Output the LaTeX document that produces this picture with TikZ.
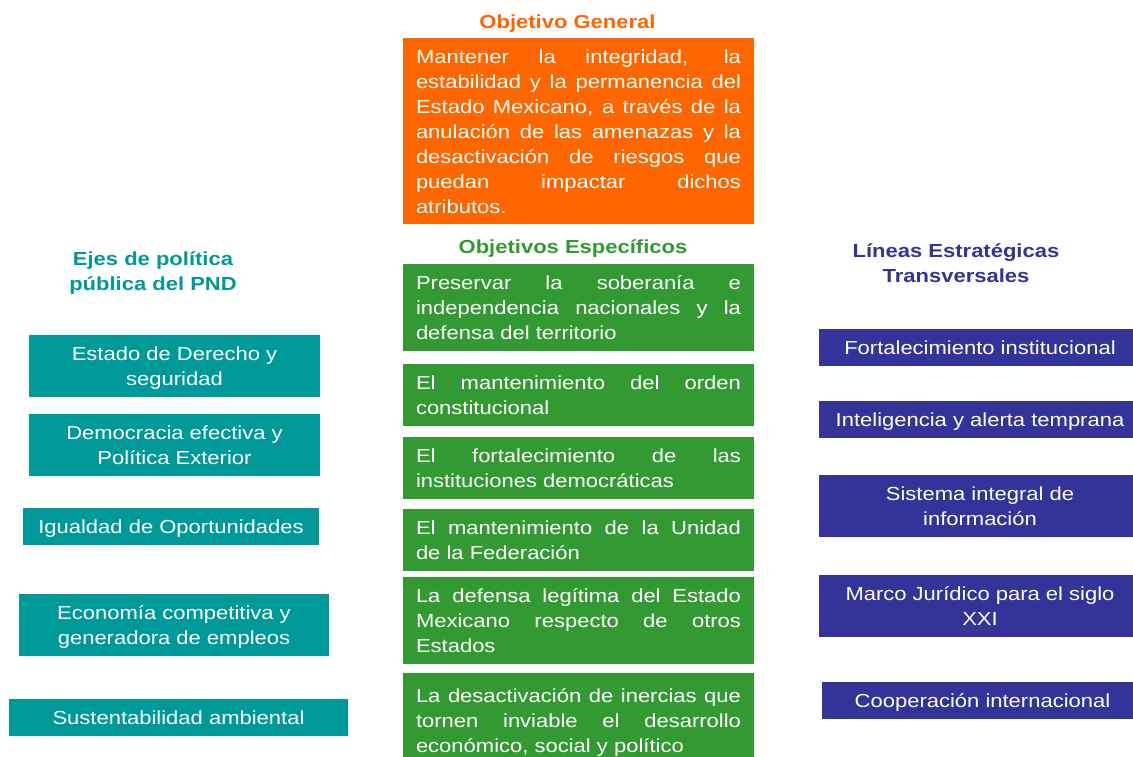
\documentclass[tikz,border=0pt]{standalone}
\usepackage{fontspec}
\setmainfont{Liberation Sans}
\usepackage{graphicx}
\definecolor{cOrange}{HTML}{FF6600}
\definecolor{cGreen}{HTML}{339933}
\definecolor{cTeal}{HTML}{009999}
\definecolor{cBlue}{HTML}{333399}
\newcommand\sqbox[2]{\scalebox{1}[0.86]{\parbox{#1}{\parindent=0pt\fontsize{22}{29.07}\selectfont #2}}}
\newcommand\bxtext[2]{\sqbox{#1}{\vspace*{5pt}#2}}
\newcommand\jl[1]{\makebox[325pt][s]{\strut#1}\\}
\newcommand\lastl[1]{\makebox[325pt][l]{\strut#1}}
\newcommand\ctext[2]{\bxtext{#1}{\centering\strut #2\strut}}
\newcommand\ttext[1]{\sqbox{400pt}{\centering\bfseries\strut #1\strut}}
\tikzset{
  box/.style={inner sep=0pt, outer sep=0pt, text=white, anchor=center},
  obox/.style={box, fill=cOrange, minimum width=351pt},
  gbox/.style={box, fill=cGreen, minimum width=351pt},
  tbox/.style={box, fill=cTeal},
  bbox/.style={box, fill=cBlue},
  title/.style={inner sep=0pt, anchor=center}
}
\begin{document}
\begin{tikzpicture}[x=1pt,y=-1pt]
\useasboundingbox (0,0) rectangle (1133,756);
\clip (0,0) rectangle (1133,756);
\fill[white] (0,0) rectangle (1133,756);
% titles
\node[title, text=cOrange] (tGen) at (567.5,23) {\ttext{Objetivo General}};
\node[title, text=cGreen] (tEsp) at (573,248) {\ttext{Objetivos Específicos}};
\node[title, text=cTeal] (tEjes) at (153,273) {\ttext{Ejes de política\\pública del PND}};
\node[title, text=cBlue] (tLin) at (956,265) {\ttext{Líneas Estratégicas\\Transversales}};
% orange box
\node[obox, minimum height=186pt] (og) at (578.5,131) {\bxtext{325pt}{%
\jl{Mantener la integridad, la}%
\jl{estabilidad y la permanencia del}%
\jl{Estado Mexicano, a través de la}%
\jl{anulación de las amenazas y la}%
\jl{desactivación de riesgos que}%
\jl{puedan impactar dichos}%
\lastl{atributos.}}};
% green boxes
\node[gbox, minimum height=87pt] (g1) at (578.5,307.5) {\bxtext{325pt}{%
\jl{Preservar la soberanía e}%
\jl{independencia nacionales y la}%
\lastl{defensa del territorio}}};
\node[gbox, minimum height=62pt] (g2) at (578.5,395) {\bxtext{325pt}{%
\jl{El mantenimiento del orden}%
\lastl{constitucional}}};
\node[gbox, minimum height=62pt] (g3) at (578.5,468) {\bxtext{325pt}{%
\jl{El fortalecimiento de las}%
\lastl{instituciones democráticas}}};
\node[gbox, minimum height=62pt] (g4) at (578.5,540) {\bxtext{325pt}{%
\jl{El mantenimiento de la Unidad}%
\lastl{de la Federación}}};
\node[gbox, minimum height=87pt] (g5) at (578.5,620.5) {\bxtext{325pt}{%
\jl{La defensa legítima del Estado}%
\jl{Mexicano respecto de otros}%
\lastl{Estados}}};
\node[gbox, minimum height=94pt] (g6) at (578.5,720) {\bxtext{325pt}{%
\jl{La desactivación de inercias que}%
\jl{tornen inviable el desarrollo}%
\lastl{económico, social y político}}};
% teal boxes
\node[tbox, minimum width=291pt, minimum height=62pt] (e1) at (174.5,366) {\ctext{291pt}{Estado de Derecho y\\seguridad}};
\node[tbox, minimum width=291pt, minimum height=62pt] (e2) at (174.5,445) {\ctext{291pt}{Democracia efectiva y\\Política Exterior}};
\node[tbox, minimum width=296pt, minimum height=37pt] (e3) at (171,526.5) {\ctext{296pt}{Igualdad de Oportunidades}};
\node[tbox, minimum width=310pt, minimum height=62pt] (e4) at (174,625) {\ctext{310pt}{Economía competitiva y\\generadora de empleos}};
\node[tbox, minimum width=339pt, minimum height=37pt] (e5) at (178.5,717.5) {\ctext{339pt}{Sustentabilidad ambiental}};
% blue boxes
\node[bbox, minimum width=322pt, minimum height=37pt] (l1) at (980,347) {\ctext{322pt}{Fortalecimiento institucional}};
\node[bbox, minimum width=322pt, minimum height=37pt] (l2) at (980,419.5) {\ctext{322pt}{Inteligencia y alerta temprana}};
\node[bbox, minimum width=322pt, minimum height=62pt] (l3) at (980,506) {\ctext{322pt}{Sistema integral de\\información}};
\node[bbox, minimum width=322pt, minimum height=62pt] (l4) at (980,606) {\ctext{322pt}{Marco Jurídico para el siglo\\XXI}};
\node[bbox, minimum width=321pt, minimum height=37pt] (l5) at (982.5,700.5) {\ctext{321pt}{Cooperación internacional}};
\end{tikzpicture}
\end{document}
